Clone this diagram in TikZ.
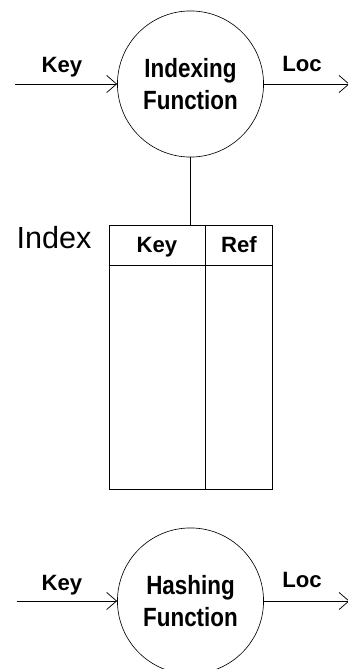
\documentclass[tikz,border=0pt]{standalone}
\usepackage{fontspec}
\setmainfont{Liberation Sans}
\newfontfamily\narrowsans[FakeStretch=0.85]{Liberation Sans}
\usetikzlibrary{arrows.meta}

\begin{document}
\begin{tikzpicture}[
    fn/.style={circle, draw, line width=0.6pt, minimum size=4.87cm, inner sep=0pt, align=center, font=\narrowsans\bfseries\fontsize{25}{30.5}\selectfont},
    lbl/.style={anchor=base, font=\bfseries\fontsize{21}{24}\selectfont},
    flow/.style={-{Straight Barb[length=3.3mm,width=5.7mm]}, line width=0.7pt},
    tabline/.style={line width=0.8pt}
]
\useasboundingbox (0,0) rectangle (11.6,22.3);

% Indexing function
\node[fn] (idxfn) at (6.35,19.5) {Indexing\\Function};
\coordinate (idxin) at (0.5,19.5);
\coordinate (idxout) at (11.65,19.5);
\draw[flow] (idxin) -- (idxfn);
\draw[flow] (idxfn) -- (idxout);
\node[lbl] (idxkey) at (2.067,19.88) {Key};
\node[lbl] (idxloc) at (10.067,19.9) {Loc};

% The index table
\node[draw, tabline, minimum width=5.433cm, minimum height=8.8cm, inner sep=0pt] (idxtab) at (6.35,10.4) {};
\draw[tabline] (3.633,13.467) -- (9.067,13.467);
\draw[tabline] (6.833,14.8) -- (6.833,6.0);
\node[lbl] (tabkey) at (5.233,13.867) {Key};
\node[lbl] (tabref) at (7.967,13.867) {Ref};
\node[anchor=base west, font=\fontsize{29}{34}\selectfont] (idxname) at (0.433,14.033) {Index};
\draw[line width=0.7pt] (idxfn.south) -- (idxtab.north);

% Hashing function
\node[fn] (hashfn) at (6.35,2.267) {Hashing\\Function};
\coordinate (hashin) at (0.55,2.267);
\coordinate (hashout) at (11.65,2.267);
\draw[flow] (hashin) -- (hashfn);
\draw[flow] (hashfn) -- (hashout);
\node[lbl] (hashkey) at (2.067,2.63) {Key};
\node[lbl] (hashloc) at (10.067,2.72) {Loc};

\end{tikzpicture}
\end{document}
